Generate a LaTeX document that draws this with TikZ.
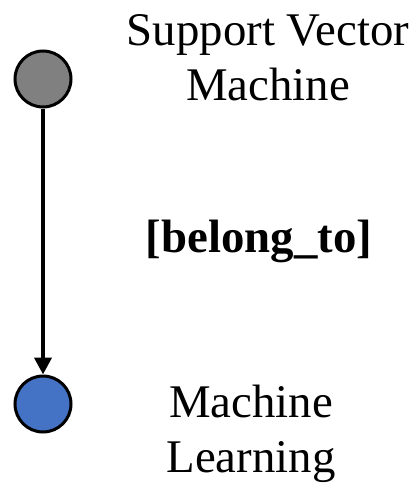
\documentclass[tikz,border=0pt]{standalone}
\usepackage{fontspec}
\setmainfont{Liberation Serif}
\usetikzlibrary{arrows.meta}
\definecolor{vgray}{RGB}{128,128,128}
\definecolor{vblue}{RGB}{68,114,196}
\tikzset{
  vertex/.style={circle, draw=black, line width=3pt, minimum size=56pt, inner sep=0pt},
  label text/.style={font=\fontsize{46.8}{55}\selectfont, align=center, inner sep=0pt, anchor=base},
  relation/.style={line width=4pt, -{Triangle[length=17pt,width=17pt]}}
}
\begin{document}
\begin{tikzpicture}[x=1pt, y=-1pt]
  \useasboundingbox (0,0) rectangle (415,487);
  \node[vertex, fill=vgray] (svm) at (43,79) {};
  \node[vertex, fill=vblue] (ml) at (43,404) {};
  % base anchor of a two-line node sits on its last line
  \node[label text] (svmlabel) at (268,100) {Support Vector\\Machine};
  \node[label text, font=\fontsize{46.8}{55}\selectfont\bfseries] (rel) at (259,252) {[belong\_to]};
  \node[label text] (mllabel) at (251,472) {Machine\\Learning};
  \draw[relation] (svm) -- (ml);
\end{tikzpicture}
\end{document}
